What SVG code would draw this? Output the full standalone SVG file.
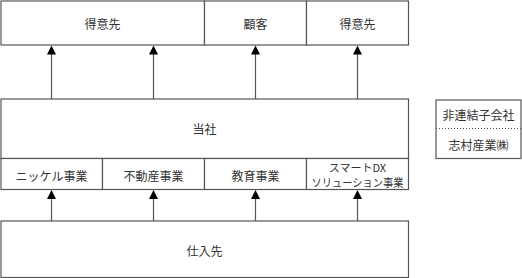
<svg xmlns="http://www.w3.org/2000/svg" width="522" height="278" viewBox="0 0 522 278">
<style>
.b{fill:#fff;stroke:#555;stroke-width:1.2}
.t{font-family:"Noto Sans CJK JP","Noto Sans CJK SC",sans-serif;font-size:12px;fill:#333;text-anchor:middle;dominant-baseline:central}
.s{font-size:11px}
</style>
<defs>
<path id="tri" d="M-4.5,9 L0,0 L4.5,9 Z" fill="#000" stroke="none"/>
</defs>
<g id="customer1"><rect class="b" x="1" y="1" width="203.5" height="44"/><text class="t" x="102.5" y="23">得意先</text></g>
<g id="client"><rect class="b" x="204.5" y="1" width="102" height="44"/><text class="t" x="255.5" y="23">顧客</text></g>
<g id="customer2"><rect class="b" x="306.5" y="1" width="102" height="44"/><text class="t" x="357.5" y="23">得意先</text></g>
<g id="company"><rect class="b" x="1" y="99" width="407.5" height="59.5"/><text class="t" x="204.5" y="128">当社</text></g>
<g id="nickel"><rect class="b" x="1" y="158.5" width="101.5" height="31"/><text class="t" x="51.5" y="175">ニッケル事業</text></g>
<g id="realestate"><rect class="b" x="102.5" y="158.5" width="102" height="31"/><text class="t" x="153.5" y="175">不動産事業</text></g>
<g id="education"><rect class="b" x="204.5" y="158.5" width="102" height="31"/><text class="t" x="255.5" y="175">教育事業</text></g>
<g id="smartdx"><rect class="b" x="306.5" y="158.5" width="102" height="31"/><text class="t s" x="357.5" y="166.5">スマートDX</text><text class="t s" x="357.5" y="182" textLength="92" lengthAdjust="spacingAndGlyphs">ソリューション事業</text></g>
<g id="supplier"><rect class="b" x="1" y="221" width="407.5" height="56.5"/><text class="t" x="204.5" y="250">仕入先</text></g>
<g id="affiliate"><rect class="b" x="436" y="100" width="85" height="58.5"/><line x1="436" y1="128.5" x2="521" y2="128.5" stroke="#555" stroke-width="1" stroke-dasharray="1,2"/><text class="t" x="478.5" y="114">非連結子会社</text><text class="t" x="478.5" y="144">志村産業㈱</text></g>
<g id="connectors" stroke="#555" stroke-width="1.2">
<line x1="51.5" y1="99" x2="51.5" y2="54"/><use href="#tri" x="51.5" y="45.5"/>
<line x1="153.5" y1="99" x2="153.5" y2="54"/><use href="#tri" x="153.5" y="45.5"/>
<line x1="255.5" y1="99" x2="255.5" y2="54"/><use href="#tri" x="255.5" y="45.5"/>
<line x1="357.5" y1="99" x2="357.5" y2="54"/><use href="#tri" x="357.5" y="45.5"/>
<line x1="51.5" y1="221" x2="51.5" y2="198"/><use href="#tri" x="51.5" y="190"/>
<line x1="153.5" y1="221" x2="153.5" y2="198"/><use href="#tri" x="153.5" y="190"/>
<line x1="255.5" y1="221" x2="255.5" y2="198"/><use href="#tri" x="255.5" y="190"/>
<line x1="357.5" y1="221" x2="357.5" y2="198"/><use href="#tri" x="357.5" y="190"/>
</g>
</svg>
